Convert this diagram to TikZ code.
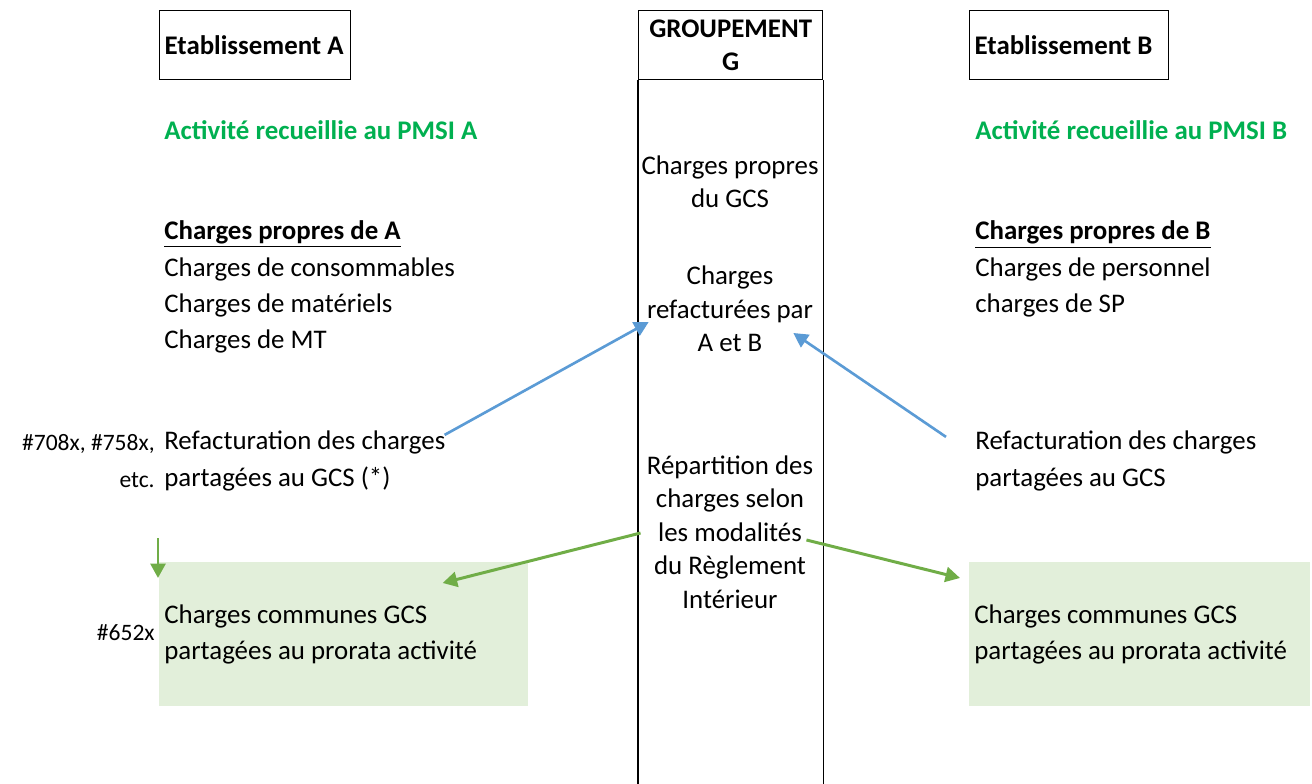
\documentclass[tikz,border=0pt]{standalone}
\usepackage{fontspec}
\setmainfont{Carlito}
\usetikzlibrary{arrows.meta, positioning, calc}
\definecolor{vertPMSI}{HTML}{00B050}
\definecolor{bleuLien}{HTML}{5B9BD5}
\definecolor{vertLien}{HTML}{70AD47}
\definecolor{fondVert}{HTML}{E2EFDA}

\begin{document}
\begin{tikzpicture}[x=0.02cm, y=-0.02cm, >={Triangle[length=0.29cm,width=0.3cm]},
  every node/.style={font=\fontsize{15.3}{20.6}\selectfont, inner sep=0pt},
  titre/.style={draw, line width=0.8pt, anchor=north west, inner xsep=0.1cm,
    minimum height=1.38cm, font=\fontsize{15.3}{19}\selectfont\bfseries},
  bloc/.style={anchor=west, align=flush left},
  pmsi/.style={bloc, text=vertPMSI, font=\fontsize{15.3}{20.6}\selectfont\bfseries},
  milieu/.style={align=flush center, font=\fontsize{15.3}{19}\selectfont},
  commun/.style={fill=fondVert, anchor=north west, align=flush left, inner xsep=0.1cm,
    minimum height=2.88cm},
  code/.style={anchor=east, align=flush right, font=\fontsize{13.4}{20.6}\selectfont},
  lienbleu/.style={draw=bleuLien, line width=1.5pt},
  lienvert/.style={draw=vertLien, line width=1.7pt}]

\useasboundingbox (0,0) rectangle (1312,784);

% define the boxes
  \node[titre, text width=3.62cm, align=flush left]   (etabA) at (159,10) {Etablissement A};
  \node[titre, text width=3.48cm, align=flush center] (grpG)  at (638,10) {GROUPEMENT\\G};
  \node[titre, text width=3.78cm, align=flush left]   (etabB) at (969,10) {Etablissement B};
  \coordinate (bas) at (730,784);
  \draw[line width=0.8pt] (grpG.south west) -- (grpG.south west |- bas)
                          (grpG.south east) -- (grpG.south east |- bas);

% establishment A
  \node[pmsi] (pmsiA) at (164,130) {Activité recueillie au PMSI A};
  \node[bloc] (propresA) at (164,287)
{\textbf{\underline{Charges propres de A}}\\Charges de consommables\\Charges de matériels\\Charges de MT};
  \node[bloc] (refactA) at (164,461)
{Refacturation des charges\\partagées au GCS (*)};
  \node[code] (codesA) at (155,461) {\#708x, \#758x,\\etc.};
  \node[commun, text width=7.18cm] (communA) at (159,562)
{Charges communes GCS\\partagées au prorata activité};
  \node[code] (code652) at (155,633) {\#652x};

% groupement G
  \node[milieu] (propresG) at (730,182) {Charges propres\\du GCS};
  \node[milieu] (refactG)  at (730,309) {Charges\\refacturées par\\A et B};
  \node[milieu] (repartG)  at (730,532)
{Répartition des\\charges selon\\les modalités\\du Règlement\\Intérieur};

% establishment B
  \node[pmsi] (pmsiB) at (975,130) {Activité recueillie au PMSI B};
  \node[bloc] (propresB) at (975,269)
{\textbf{\underline{Charges propres de B}}\\Charges de personnel\\charges de SP};
  \node[bloc] (refactB) at (975,461)
{Refacturation des charges\\partagées au GCS};
  \node[commun, text width=6.62cm] (communB) at (969,562)
{Charges communes GCS\\partagées au prorata activité};

% define the links
  \path[->] ($(refactA.north east)+(-1,4)$) edge[lienbleu] ($(refactG.west)+(2,13)$)
            ($(refactB.north west)+(-29,6)$) edge[lienbleu] ($(refactG.east)+(-20,24)$)
            ($(repartG.west)+(-6,1)$) edge[lienvert] ($(communA.north east)+(-86,21)$)
            ($(repartG.east)+(-7,8)$) edge[lienvert] ($(communB.north west)+(-9,16)$)
            ($(communA.north west)+(-1,-24)$) edge[lienvert] ($(communA.north west)+(-1,16)$);

\end{tikzpicture}
\end{document}
